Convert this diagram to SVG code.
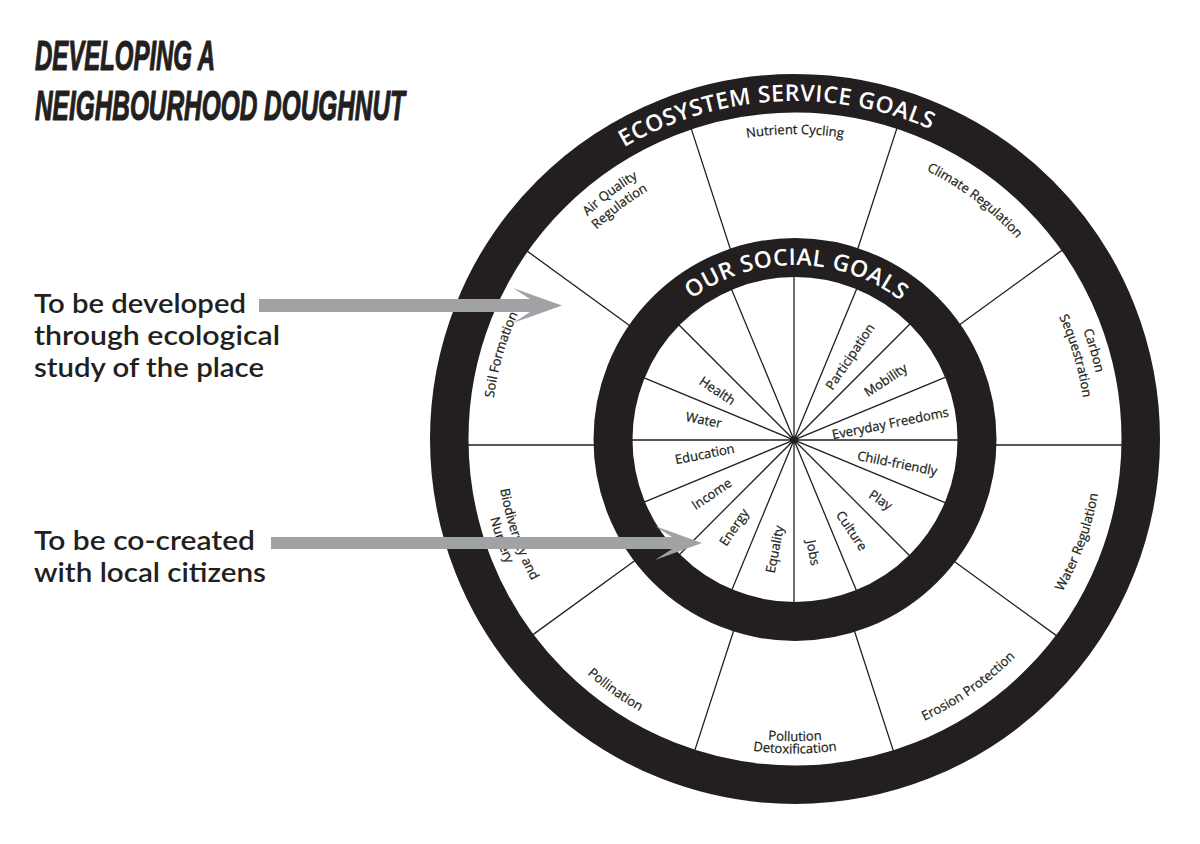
<svg xmlns="http://www.w3.org/2000/svg" width="1200" height="844" viewBox="0 0 1200 844">
<style>
.ring{fill:none;stroke:#231f20}
.spoke{stroke:#231f20;stroke-width:1.3;fill:none}
.rt{fill:#ffffff;font-family:"Open Sans","Liberation Sans",sans-serif;font-weight:600;font-size:23px;letter-spacing:0.5px}
.lb{fill:#231f20;stroke:#231f20;stroke-width:0.25px;font-family:"Open Sans","Liberation Sans",sans-serif;font-size:13px}
.il{fill:#231f20;stroke:#231f20;stroke-width:0.25px;font-family:"Open Sans","Liberation Sans",sans-serif;font-size:13px;text-anchor:middle}
.title{fill:#231f20;stroke:#231f20;stroke-width:1.2px;stroke-linejoin:round;font-family:"Liberation Sans",Arial,sans-serif;font-weight:700;font-style:italic;font-size:42px}
.note{fill:#231f20;font-family:Lato,"Open Sans",sans-serif;font-weight:600;font-size:26px}
.arrow{fill:#a0a2a5}
</style>
<defs>
<path id="pEco" d="M459.3,399.6 A338,338 0 0 1 1123.9,361.2"/>
<path id="pSoc" d="M623.9,407.3 A174,174 0 0 1 966.6,410.3"/>
<path id="pNut" d="M508.4,334.7 A305,305 0 0 1 1081.6,334.7"/>
<path id="pCli" d="M632.2,188.2 A299,299 0 0 1 1080.9,526.4"/>
<path id="pCar1" d="M813.8,131.6 A308,308 0 0 1 978.2,686.6"/>
<path id="pCar2" d="M812.8,148.6 A291,291 0 0 1 968.1,672.9"/>
<path id="pWat" d="M795,747 A308,308 0 0 0 993,203.1"/>
<path id="pEro" d="M617.2,692.9 A310,310 0 0 0 1094.4,358.8"/>
<path id="pPol1" d="M511.2,542.3 A302,302 0 0 0 1078.8,542.3"/>
<path id="pPol2" d="M499.5,546.6 A314.5,314.5 0 0 0 1090.5,546.6"/>
<path id="pPoll" d="M493,354.7 A313.5,313.5 0 0 0 972.1,697.7"/>
<path id="pBio1" d="M606.8,206.6 A299,299 0 0 0 789.8,737.9"/>
<path id="pBio2" d="M596.8,194.2 A315,315 0 0 0 789.5,753.9"/>
<path id="pSoil" d="M616.3,684.9 A304,304 0 0 1 773.8,135.7"/>
<path id="pAir1" d="M503.8,528 A304.5,304.5 0 0 1 960.8,183.6"/>
<path id="pAir2" d="M519.1,523.4 A288.5,288.5 0 0 1 952.1,197"/>
</defs>
<rect x="0" y="0" width="1200" height="844" fill="#ffffff"/>

<g id="title">
<text class="title" x="35" y="70" textLength="180" lengthAdjust="spacingAndGlyphs">DEVELOPING A</text>
<text class="title" x="35" y="120" textLength="370" lengthAdjust="spacingAndGlyphs">NEIGHBOURHOOD DOUGHNUT</text>
</g>

<g id="connectors">
<g id="inner-spokes">
<path class="spoke" d="M624,440 L964,440 M636.9,505.1 L951.1,374.9 M673.8,560.2 L914.2,319.8 M728.9,597.1 L859.1,282.9 M794,610 L794,270 M859.1,597.1 L728.9,282.9 M914.2,560.2 L673.8,319.8 M951.1,505.1 L636.9,374.9"/>
</g>
<g id="outer-spokes">
<path class="spoke" d="M979,445 L1129,445 M943.7,336.3 L1065,248.1 M851.2,269 L897.5,126.4 M736.8,269 L690.5,126.4 M644.3,336.3 L523,248.1 M609,445 L459,445 M644.3,553.7 L523,641.9 M736.8,621 L690.5,763.6 M851.2,621 L897.5,763.6 M943.7,553.7 L1065,641.9"/>
</g>
</g>

<g id="outer-ring">
<circle class="ring" cx="795" cy="439" r="345.75" stroke-width="38.5"/>
<text class="rt"><textPath href="#pEco" startOffset="50%" text-anchor="middle">ECOSYSTEM SERVICE GOALS</textPath></text>
</g>
<g id="inner-ring">
<circle class="ring" cx="795" cy="439.5" r="182" stroke-width="39"/>
<text class="rt"><textPath href="#pSoc" startOffset="50%" text-anchor="middle">OUR SOCIAL GOALS</textPath></text>
</g>

<g id="ecosystem-labels">
<g id="nutrient-cycling"><text class="lb"><textPath href="#pNut" startOffset="50%" text-anchor="middle">Nutrient Cycling</textPath></text></g>
<g id="climate-regulation"><text class="lb"><textPath href="#pCli" startOffset="50%" text-anchor="middle">Climate Regulation</textPath></text></g>
<g id="carbon-sequestration"><text class="lb"><textPath href="#pCar1" startOffset="50%" text-anchor="middle">Carbon</textPath></text><text class="lb"><textPath href="#pCar2" startOffset="50%" text-anchor="middle">Sequestration</textPath></text></g>
<g id="water-regulation"><text class="lb"><textPath href="#pWat" startOffset="50%" text-anchor="middle">Water Regulation</textPath></text></g>
<g id="erosion-protection"><text class="lb"><textPath href="#pEro" startOffset="50%" text-anchor="middle">Erosion Protection</textPath></text></g>
<g id="pollution-detoxification"><text class="lb"><textPath href="#pPol1" startOffset="50%" text-anchor="middle">Pollution</textPath></text><text class="lb"><textPath href="#pPol2" startOffset="50%" text-anchor="middle">Detoxification</textPath></text></g>
<g id="pollination"><text class="lb"><textPath href="#pPoll" startOffset="50%" text-anchor="middle">Pollination</textPath></text></g>
<g id="biodiversity-nursery"><text class="lb"><textPath href="#pBio1" startOffset="50%" text-anchor="middle">Biodiversity and</textPath></text><text class="lb"><textPath href="#pBio2" startOffset="50%" text-anchor="middle">Nursery</textPath></text></g>
<g id="soil-formation"><text class="lb"><textPath href="#pSoil" startOffset="50%" text-anchor="middle">Soil Formation</textPath></text></g>
<g id="air-quality-regulation"><text class="lb"><textPath href="#pAir1" startOffset="50%" text-anchor="middle">Air Quality</textPath></text><text class="lb"><textPath href="#pAir2" startOffset="50%" text-anchor="middle">Regulation</textPath></text></g>
</g>

<g id="social-labels">
<g id="everyday-freedoms"><text class="il" transform="translate(890.3,423.3) rotate(-11.25)" dy="0.35em">Everyday Freedoms</text></g>
<g id="mobility"><text class="il" transform="translate(885.7,380) rotate(-33.75)" dy="0.35em">Mobility</text></g>
<g id="participation"><text class="il" transform="translate(850,356.7) rotate(-56.25)" dy="0.35em">Participation</text></g>
<g id="health"><text class="il" transform="translate(717.3,390.7) rotate(33.75)" dy="0.35em">Health</text></g>
<g id="water"><text class="il" transform="translate(703.7,420) rotate(11.25)" dy="0.35em">Water</text></g>
<g id="education"><text class="il" transform="translate(704.7,454) rotate(-11.25)" dy="0.35em">Education</text></g>
<g id="income"><text class="il" transform="translate(711.7,494) rotate(-33.75)" dy="0.35em">Income</text></g>
<g id="energy"><text class="il" transform="translate(734,527.3) rotate(-56.25)" dy="0.35em">Energy</text></g>
<g id="equality"><text class="il" transform="translate(774.7,549.3) rotate(-78.75)" dy="0.35em">Equality</text></g>
<g id="jobs"><text class="il" transform="translate(813.3,552.7) rotate(78.75)" dy="0.35em">Jobs</text></g>
<g id="culture"><text class="il" transform="translate(851.7,530.7) rotate(56.25)" dy="0.35em">Culture</text></g>
<g id="play"><text class="il" transform="translate(880.7,500) rotate(33.75)" dy="0.35em">Play</text></g>
<g id="child-friendly"><text class="il" transform="translate(897.3,463.3) rotate(11.25)" dy="0.35em">Child-friendly</text></g>
</g>

<g id="note-ecological">
<text class="note" x="34" y="313" textLength="212" lengthAdjust="spacingAndGlyphs">To be developed</text>
<text class="note" x="34" y="345" textLength="246" lengthAdjust="spacingAndGlyphs">through ecological</text>
<text class="note" x="34" y="377" textLength="230" lengthAdjust="spacingAndGlyphs">study of the place</text>
</g>
<g id="note-citizens">
<text class="note" x="34" y="550" textLength="221" lengthAdjust="spacingAndGlyphs">To be co-created</text>
<text class="note" x="34" y="582" textLength="232" lengthAdjust="spacingAndGlyphs">with local citizens</text>
</g>

<g id="arrows">
<polygon class="arrow" points="259,299 530,299 513,288 562,305.5 513,323 530,312 259,312"/>
<polygon class="arrow" points="271,537 672,537 655,526 702,543 655,560 672,549 271,549"/>
</g>
</svg>
